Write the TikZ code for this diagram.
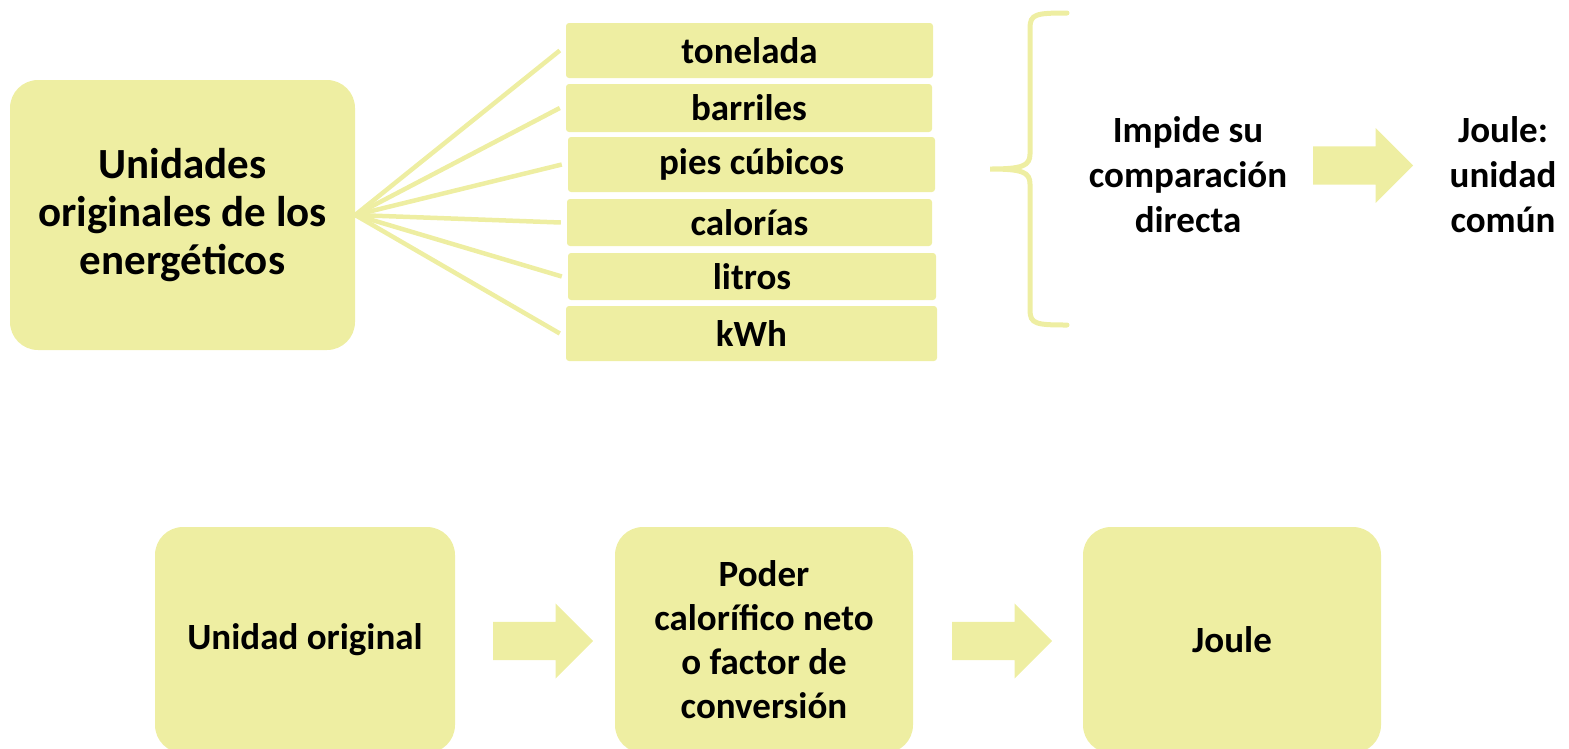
\documentclass[tikz,border=0pt]{standalone}
\usepackage{fontspec}
\setmainfont{Carlito}
\usetikzlibrary{shapes.arrows}
\definecolor{paja}{RGB}{238,238,162}

\begin{document}
\begin{tikzpicture}[x=1pt,y=-1pt]
  \tikzstyle{caja}=[fill=paja,rounded corners=28pt,align=center,inner sep=0pt,font=\fontsize{37}{44}\selectfont\bfseries]
  \tikzstyle{unidad}=[fill=paja,rounded corners=3pt,inner sep=0pt,minimum width=367pt,font=\fontsize{37}{44}\selectfont\bfseries]
  \tikzstyle{texto}=[align=center,font=\fontsize{37}{45}\selectfont\bfseries]
  \tikzstyle{flecha}=[single arrow,fill=paja,inner sep=19pt,minimum height=100pt,single arrow head extend=18.5pt,single arrow head indent=0pt,anchor=tail]
  \tikzstyle{rama}=[draw=paja,line width=4.5pt]
  \useasboundingbox (0,0) rectangle (1569,748);
  \clip (0,0) rectangle (1569,748);
  \node[caja,minimum width=345pt,minimum height=270pt,font=\fontsize{43}{48}\selectfont\bfseries] (origen) at (182.5,215) {Unidades\\originales de los\\energéticos};
  \node[unidad,minimum height=55pt] (ton) at (749.5,50.5) {tonelada};
  \node[unidad,minimum height=48pt,minimum width=366pt] (bar) at (749,108) {barriles};
  \node[unidad,minimum height=55pt] (pie) at (751.5,164.5) {pies cúbicos};
  \node[unidad,minimum height=47pt,minimum width=365pt] (cal) at (749.5,222.5) {calorías};
  \node[unidad,minimum height=47pt,minimum width=368pt] (lit) at (752,276.5) {litros};
  \node[unidad,minimum height=55pt,minimum width=371pt] (kwh) at (751.5,333.5) {kWh};
  \foreach \u in {ton,bar,pie,cal,lit,kwh}
    \draw[rama] (origen.east) -- ([xshift=-6pt]\u.west);
  \draw[draw=paja,line width=5pt,line cap=round] (1067,13) .. controls (1036,13) and (1030,14) .. (1030,28) -- (1030,154)
    .. controls (1030,166) and (1022,169) .. (990,169) .. controls (1022,169) and (1030,172) .. (1030,184) -- (1030,310)
    .. controls (1030,324) and (1036,325) .. (1067,325);
  \node[texto] (impide) at (1188,175) {Impide su\\comparación\\directa};
  \node[flecha] (f1) at (1313,165.5) {};
  \node[texto] (comun) at (1503,175) {Joule:\\unidad\\común};
  \node[caja,minimum width=300pt,minimum height=226pt] (orig) at (305,640) {Unidad original};
  \node[flecha] (f2) at (493,641) {};
  \node[caja,minimum width=298pt,minimum height=226pt] (poder) at (764,640) {Poder\\calorífico neto\\o factor de\\conversión};
  \node[flecha] (f3) at (952,641) {};
  \node[caja,minimum width=298pt,minimum height=226pt] (joule) at (1232,640) {Joule};
\end{tikzpicture}
\end{document}
